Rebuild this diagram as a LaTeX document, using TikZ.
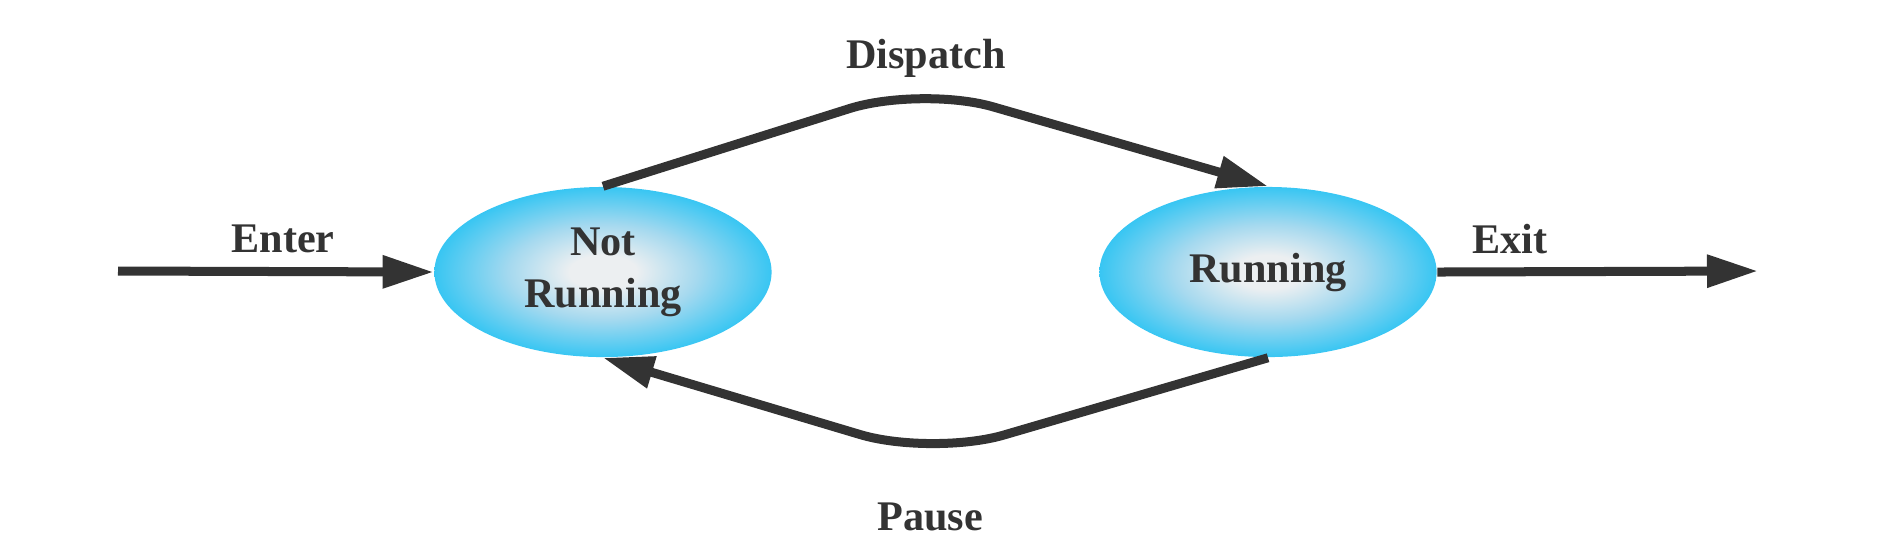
\documentclass[tikz,border=0pt]{standalone}
\usepackage{fontspec}
\setmainfont{Liberation Serif}
\usetikzlibrary{shapes.geometric,arrows.meta}
\definecolor{mycyan}{HTML}{2EC4F3}
\definecolor{midblue}{HTML}{A5D9EF}
\definecolor{core}{HTML}{ECEFF1}
\definecolor{ink}{HTML}{333333}
\definecolor{txt}{HTML}{333333}
\pgfdeclareradialshading{ballshade}{\pgfpoint{0bp}{0bp}}{color(0bp)=(core); color(5bp)=(core); color(14bp)=(midblue); color(26bp)=(mycyan); color(50bp)=(mycyan)}
\tikzset{
  state/.style={ellipse, minimum width=3.37cm, minimum height=1.70cm, inner sep=0pt,
    shading=ballshade, draw=none, text=txt, font=\bfseries\fontsize{12}{14.8}\selectfont, align=center},
  lbl/.style={text=txt, font=\bfseries\fontsize{12}{14.8}\selectfont, anchor=base, inner sep=0pt},
  flow/.style={draw=ink, line width=0.09cm, -{Triangle[length=0.51cm, width=0.31cm]}, rounded corners=0.75cm}
}
\begin{document}
\begin{tikzpicture}[x=0.01cm, y=-0.01cm]
\useasboundingbox (0,0) rectangle (1886,556);
\node[state] (nr) at (603,272) {Not\\Running};
\node[state] (r) at (1268,272) {Running};
\coordinate (in) at (118,271);
\coordinate (out) at (1758,271);
\coordinate (dpeak) at (921,86);
\coordinate (ptrough) at (932,456);
\draw[flow, rounded corners=0pt] (in) -- (nr.west);
\draw[flow, rounded corners=0pt] (r.east) -- (out);
\draw[flow] (nr.north) -- (dpeak) -- (r.north);
\draw[flow] (r.south) -- (ptrough) -- (nr.south);
\node[lbl] (l1) at (926,68) {Dispatch};
\node[lbl] (l2) at (283,252) {Enter};
\node[lbl] (l3) at (1510,253) {Exit};
\node[lbl] (l4) at (930,530) {Pause};
\end{tikzpicture}
\end{document}
